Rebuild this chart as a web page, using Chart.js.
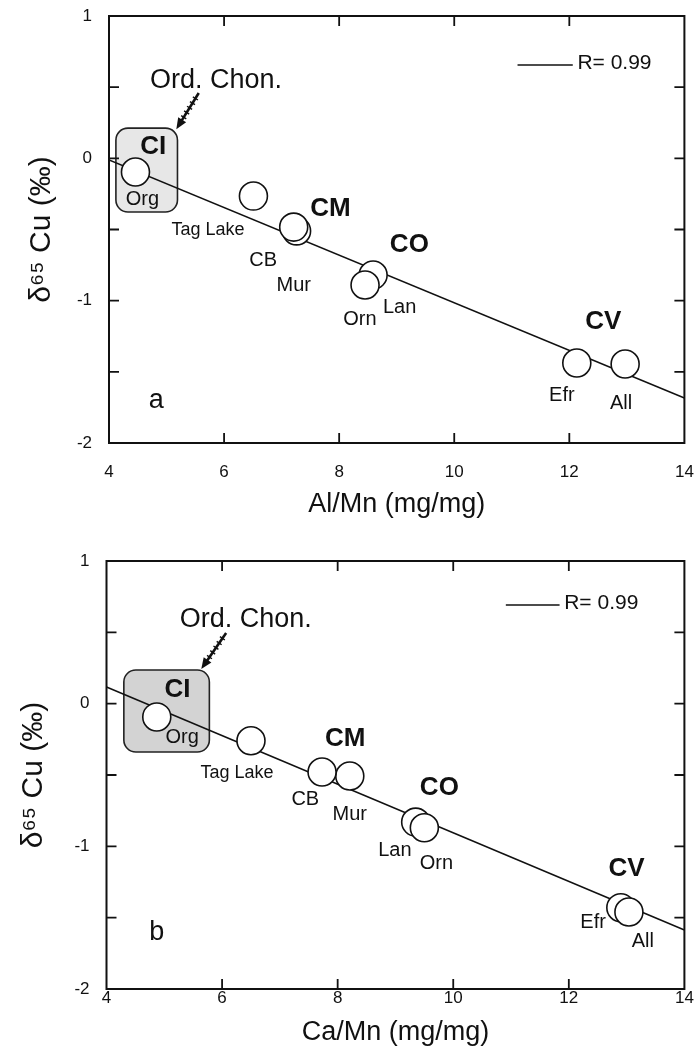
<!DOCTYPE html>
<html><head><meta charset="utf-8">
<script src="https://cdn.jsdelivr.net/npm/chart.js@4.4.1/dist/chart.umd.min.js"></script>
<style>
html,body{margin:0;padding:0;background:#fff;overflow:hidden;width:700px;height:1049px;}
canvas{display:block;}
#wrapA{position:absolute;left:0;top:0;width:700px;height:530px;}
#wrapB{position:absolute;left:0;top:530px;width:700px;height:519px;}
</style></head><body>
<div id="wrapA"><canvas id="chartA" width="700" height="530"></canvas></div>
<div id="wrapB"><canvas id="chartB" width="700" height="519"></canvas></div>
<script>
// ---------- data ----------
const meteorites = ['Org', 'Tag Lake', 'Mur', 'CB', 'Lan', 'Orn', 'Efr', 'All'];
const alMn  = [4.46, 6.51, 7.26, 7.21, 8.59, 8.45, 12.13, 12.97];
const cu65A = [-0.096, -0.265, -0.51, -0.483, -0.82, -0.89, -1.438, -1.445];
const caMn  = [4.87, 6.50, 8.21, 7.73, 9.35, 9.50, 12.90, 13.04];
const cu65B = [-0.093, -0.26, -0.507, -0.479, -0.83, -0.87, -1.43, -1.46];
const fitX  = [4, 14];
const fitAy = [-0.012, -1.684];
const fitBy = [0.117, -1.586];
const xTickValues = [4, 6, 8, 10, 12, 14];
const yTickLabels = [-2, -1, 0, 1];
const rLabel = 'R= 0.99';

const FAM = '"Liberation Sans", Arial, Helvetica, sans-serif';
const INK = '#111';

// ---------- annotations (data units) ----------
const annA = {
  box: {x0: 4.12, x1: 5.19, y0: 0.212, y1: -0.377, fill: '#e7e7e7'},
  arrow: {x0: 5.56, y0: 0.459, x1: 5.17, y1: 0.205},
  legend: {x0: 11.10, x1: 12.06, y: 0.655, tx: 12.14, ty: 0.67},
  labels: [
    {t: 'Ord. Chon.', x: 5.86, y: 0.55, s: 27},
    {t: 'CI', x: 4.77, y: 0.08, s: 26, b: true},
    {t: 'Org', x: 4.58, y: -0.286, s: 20},
    {t: 'Tag Lake', x: 5.72, y: -0.504, s: 18},
    {t: 'CM', x: 7.85, y: -0.357, s: 26, b: true},
    {t: 'CB', x: 6.68, y: -0.72, s: 20},
    {t: 'Mur', x: 7.21, y: -0.89, s: 20},
    {t: 'CO', x: 9.22, y: -0.61, s: 26, b: true},
    {t: 'Orn', x: 8.36, y: -1.13, s: 20},
    {t: 'Lan', x: 9.05, y: -1.045, s: 20},
    {t: 'CV', x: 12.59, y: -1.15, s: 26, b: true},
    {t: 'Efr', x: 11.87, y: -1.663, s: 20},
    {t: 'All', x: 12.9, y: -1.72, s: 20},
    {t: 'a', x: 4.82, y: -1.705, s: 27}
  ]
};
const annB = {
  box: {x0: 4.30, x1: 5.78, y0: 0.236, y1: -0.339, fill: '#d3d3d3'},
  arrow: {x0: 6.07, y0: 0.496, x1: 5.64, y1: 0.243},
  legend: {x0: 10.91, x1: 11.84, y: 0.692, tx: 11.92, ty: 0.706},
  labels: [
    {t: 'Ord. Chon.', x: 6.41, y: 0.587, s: 27},
    {t: 'CI', x: 5.23, y: 0.096, s: 26, b: true},
    {t: 'Org', x: 5.31, y: -0.24, s: 20},
    {t: 'Tag Lake', x: 6.26, y: -0.486, s: 18},
    {t: 'CM', x: 8.13, y: -0.247, s: 26, b: true},
    {t: 'CB', x: 7.44, y: -0.675, s: 20},
    {t: 'Mur', x: 8.21, y: -0.78, s: 20},
    {t: 'CO', x: 9.76, y: -0.59, s: 26, b: true},
    {t: 'Lan', x: 8.99, y: -1.03, s: 20},
    {t: 'Orn', x: 9.71, y: -1.117, s: 20},
    {t: 'CV', x: 13.0, y: -1.158, s: 26, b: true},
    {t: 'Efr', x: 12.42, y: -1.537, s: 20},
    {t: 'All', x: 13.28, y: -1.67, s: 20},
    {t: 'b', x: 4.87, y: -1.607, s: 27}
  ]
};

// ---------- plugin: frame, inside ticks, box, texts ----------
const framePlugin = {
  id: 'frame',
  beforeDatasetsDraw(chart, args, o) {
    const {ctx, scales: {x, y}} = chart;
    const b = o.box;
    const x1 = x.getPixelForValue(b.x0), x2 = x.getPixelForValue(b.x1);
    const y1 = y.getPixelForValue(b.y0), y2 = y.getPixelForValue(b.y1);
    ctx.save();
    ctx.beginPath();
    ctx.roundRect(x1, y1, x2 - x1, y2 - y1, 12);
    ctx.fillStyle = b.fill; ctx.fill();
    ctx.lineWidth = 1.6; ctx.strokeStyle = '#222'; ctx.stroke();
    ctx.restore();
  },
  afterDatasetsDraw(chart, args, o) {
    const {ctx, chartArea: a, scales: {x, y}} = chart;
    ctx.save();
    ctx.strokeStyle = INK; ctx.fillStyle = INK;
    // frame
    ctx.lineWidth = 2;
    ctx.strokeRect(a.left, a.top, a.right - a.left, a.bottom - a.top);
    // inside ticks
    ctx.lineWidth = 1.8;
    ctx.beginPath();
    y.ticks.forEach(t => {
      if (t.value <= y.min || t.value >= y.max) return;
      const py = y.getPixelForValue(t.value);
      ctx.moveTo(a.left, py); ctx.lineTo(a.left + 10, py);
      ctx.moveTo(a.right, py); ctx.lineTo(a.right - 10, py);
    });
    x.ticks.forEach(t => {
      if (t.value <= x.min || t.value >= x.max) return;
      const px = x.getPixelForValue(t.value);
      ctx.moveTo(px, a.bottom); ctx.lineTo(px, a.bottom - 10);
      ctx.moveTo(px, a.top); ctx.lineTo(px, a.top + 10);
    });
    ctx.stroke();
    // legend
    const L = o.legend;
    ctx.lineWidth = 1.5;
    ctx.beginPath();
    ctx.moveTo(x.getPixelForValue(L.x0), y.getPixelForValue(L.y));
    ctx.lineTo(x.getPixelForValue(L.x1), y.getPixelForValue(L.y));
    ctx.stroke();
    ctx.font = '21px ' + FAM;
    ctx.textAlign = 'left'; ctx.textBaseline = 'middle';
    ctx.fillText(rLabel, x.getPixelForValue(L.tx), y.getPixelForValue(L.ty));
    // arrow
    const A = o.arrow;
    const ax0 = x.getPixelForValue(A.x0), ay0 = y.getPixelForValue(A.y0);
    const ax1 = x.getPixelForValue(A.x1), ay1 = y.getPixelForValue(A.y1);
    const ang = Math.atan2(ay1 - ay0, ax1 - ax0);
    ctx.lineWidth = 2.6;
    ctx.beginPath();
    ctx.moveTo(ax0, ay0);
    ctx.lineTo(ax1 - 8 * Math.cos(ang), ay1 - 8 * Math.sin(ang));
    ctx.stroke();
    ctx.lineWidth = 1.4;
    ctx.beginPath();
    for (let k = 0.15; k < 0.75; k += 0.13) {
      const cx = ax0 + (ax1 - ax0) * k, cy = ay0 + (ay1 - ay0) * k;
      const n = ang + Math.PI / 2;
      ctx.moveTo(cx + 3 * Math.cos(n), cy + 3 * Math.sin(n));
      ctx.lineTo(cx - 3 * Math.cos(n), cy - 3 * Math.sin(n));
    }
    ctx.stroke();
    ctx.beginPath();
    ctx.moveTo(ax1, ay1);
    ctx.lineTo(ax1 - 12 * Math.cos(ang - 0.4), ay1 - 12 * Math.sin(ang - 0.4));
    ctx.lineTo(ax1 - 12 * Math.cos(ang + 0.4), ay1 - 12 * Math.sin(ang + 0.4));
    ctx.closePath(); ctx.fill();
    // labels
    ctx.textAlign = 'center'; ctx.textBaseline = 'middle';
    o.labels.forEach(l => {
      ctx.font = (l.b ? 'bold ' : '') + l.s + 'px ' + FAM;
      ctx.fillText(l.t, x.getPixelForValue(l.x), y.getPixelForValue(l.y));
    });
    ctx.restore();
  }
};

function zeroPad(s) { s.paddingTop = 0; s.paddingBottom = 0; s.paddingLeft = 0; s.paddingRight = 0; }

function makeChart(id, xs, ys, fitY, xTitle, c, ann) {
  return new Chart(document.getElementById(id), {
    type: 'scatter',
    data: {
      datasets: [
        {
          type: 'line', label: 'fit',
          data: fitX.map((v, i) => ({x: v, y: fitY[i]})),
          borderColor: INK, borderWidth: 1.5, pointRadius: 0, fill: false, order: 2
        },
        {
          label: 'meteorites',
          data: xs.map((v, i) => ({x: v, y: ys[i], name: meteorites[i]})),
          pointRadius: 14, pointBackgroundColor: '#fff', pointBorderColor: INK,
          pointBorderWidth: 1.6, order: 1
        }
      ]
    },
    options: {
      responsive: false, animation: false, events: [],
      layout: {padding: {top: c.padTop, right: c.padRight, left: 0, bottom: 0}},
      plugins: {legend: {display: false}, tooltip: {enabled: false}, frame: ann},
      scales: {
        x: {
          type: 'linear', min: 4, max: 14,
          afterBuildTicks: s => { s.ticks = xTickValues.map(v => ({value: v})); },
          grid: {display: false, drawTicks: false}, border: {display: false},
          ticks: {padding: c.xTickPad, color: INK, font: {family: FAM, size: 17}},
          title: {display: true, text: xTitle, color: INK, font: {family: FAM, size: 27},
                  padding: {top: 0, bottom: c.xTitlePad}},
          afterFit: s => { s.height = c.xH; zeroPad(s); }
        },
        y: {
          type: 'linear', min: -2, max: 1,
          grid: {display: false, drawTicks: false}, border: {display: false},
          ticks: {stepSize: 0.5, padding: 17, color: INK, font: {family: FAM, size: 17},
                  callback: v => yTickLabels.includes(v) ? String(v) : ''},
          title: {display: true, text: 'δ⁶⁵ Cu (‰)', color: INK, font: {family: FAM, size: 30},
                  padding: {top: c.yTitlePad, bottom: 0}},
          afterFit: s => { s.width = c.yW; zeroPad(s); }
        }
      }
    },
    plugins: [framePlugin]
  });
}

makeChart('chartA', alMn, cu65A, fitAy, 'Al/Mn (mg/mg)',
  {padTop: 16, padRight: 9, xH: 87, yW: 109, xTickPad: 19, xTitlePad: 9, yTitlePad: 24}, annA);
makeChart('chartB', caMn, cu65B, fitBy, 'Ca/Mn (mg/mg)',
  {padTop: 31, padRight: 11, xH: 60, yW: 106.5, xTickPad: -1, xTitlePad: 0, yTitlePad: 16}, annB);
</script>
</body></html>
